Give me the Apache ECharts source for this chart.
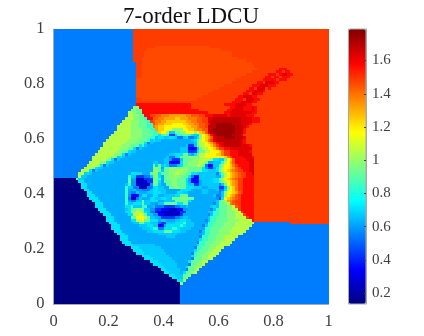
<!DOCTYPE html>
<html>
<head>
<meta charset="utf-8">
<style>html,body{margin:0;background:#fff}#main{width:424px;height:336px}</style>
<script src="https://cdn.jsdelivr.net/npm/echarts@6/dist/echarts.min.js"></script>
</head>
<body>
<div id="main"></div>
<script>
// density, one letter = one level, letter + run length per row (top row first)
const levelNames = 'abcdefghijklmnopqrstuvwx';
const levelValues = [0.138, 0.25, 0.35, 0.43, 0.545, 0.59, 0.62, 0.67, 0.71, 0.84, 0.92, 0.98, 1.05, 1.18, 1.25, 1.32, 1.38, 1.44, 1.485, 1.57, 1.63, 1.68, 1.74, 1.465];
const axisTicks = [0, 0.2, 0.4, 0.6, 0.8, 1];
const barTicks = [0.2, 0.4, 0.6, 0.8, 1, 1.2, 1.4, 1.6];
const barMin = 0.134;
const barMax = 1.79;
const jet = ['#00007F', '#0000FF', '#007FFF', '#00FFFF', '#7FFF7F', '#FFFF00', '#FF7F00', '#FF0000', '#7F0000'];
const rows = [
'e29s','e29s','e29s','e29s','e29s','e29s',
'e29s8x20s','e29s5x27s','e29s4x32s','e29s4x32s','e29s3x35s','e29s3x38s','e30s2x40s','e30s2x41s',
'e30s2x42s8t3s','e30s2x40s9t2s1t2s','e30s2x38s8t3s1t1u2t2s','e30s2x36s9t2s1t2s1t3s','e30x36s10t5s1t3s',
'e30x35s9t2s1u3t2s','e30x32s10t3u3t3s','e30x30s11t2s1u3s1t1s','e30x28s12t3u3t1s','e30x26s13t2s1u2t2s',
'e30x24s13t2u3t2s','e30s2x20s14t3s1u3t2s','e30s35t3u4t2s',
'e30t20s12t4u4t2s',
'e29l2t19s14t2u3t3u1t1s',
'e28l2k2t21s10t2u4t3u1t1s',
'e27m2l1k2t24s6t2u8t2s',
'e27m2l2k2t2s2r2q3p6q2r3s2t3u5t1u6t3s',
'e26m3l2k2j1t2r2q2p4o2p3q3r2s2u2v10u4t3s',
'e25m3l3k3j1s1r1q2p2o7p2q2r2s2u1v11u4t3s',
'e24m4l3k3j2r1q1p2o3n4o2p2q2r2s1t1v2w6v3u3t1s',
'e23m5l3k3j2q1p1o2n8o2p2q1r2s1v3w7v3u1t1s',
'e23m5l4k3j2p1o2n3l4n2o2p1q2r2v2w8v3t1s',
'e22m6l4k4j2o1n2l1h2k2l2n3l1n1o1p1r1u1v1w8v3t1s',
'e21m7l4k4j2i1j1l1j1d2h1j2k2j1i1h2l1n1o1q1t1v1w6v3u1s',
'e20m8l4k3j2h1i2h2i2h1e2h1i1e2g1i1l1n1o1p1r1u1v3w4v3u1s',
'e19m8l4k3j1h1i1h2g11h1i1k1m1n1o1q1s1u1v9u1t1s',
'e18m8l4k3i1e1h1g15h1k1m2n1o1p1r1t1u2v6u1t1s',
'e18m7l3k3i1j1h1g14h1d2h1k1m2n2o1q1s1t1u1v6u3t1s',
'e17m7l3k2i1e1h1g14h3c3h1k1m2n2o1q1s2t2u8s',
'e16m7l2k2i1h2g16h3d3i1k2m2n3o1q1s2t3u4t1s',
'e15m7l2k1i1e1h1g14h2i3k2h1g1i1k1m2n4o2q1s2t3u5s',
'e14m7l2h1i1h1g15h1e2i2k3l3k1m2n5m1n1o1q1s1t4u3t1s',
'e14m5l2i1e1h1g16h2f1d3h1k3l3m4l1i2h2k1n1o1r1t4u3s',
'e13m4l2i1h2g14h2g2h2c4i1k2l4m2k1g2h3j1m1n1p1r1t5u2s',
'e12m4l1i1e1h1g16k1h1k1h1i1h1e3h1i1k2l3m2k1e1c2h2j1l1n2o1q1s1t4u2s',
'e11m3l1i1h2g18l2k1g1k2l3k1l3k5i1f1d2g1i1k1m1n2o1p1r1s1t3u2s',
'e10m3i1e1h1g20l2k1h1k2l3m2l2k5i2h3i1k1m1n1o1p1q1r1s2t2u2s',
'e9m2h1i1h1g14i4g3k1l2i1k3l2m2l2k2i2h7e1i1k1m1n1o1p1q1r1s2t2u1s',
'e9m1h2g15j1h2d3e2h1k1l1i1g1k2l4k3i1e1c2h6g2j1m1n1o1p1q1r1s2t3s',
'a8k1h2g16k1g2b3d3k2j1g1k2l3k3i1g1c3h5i2k1m1n1o1p1q1r1s2t4s',
'a9i2g16k1f2b4d2k1l1i1g1k3l2k3i1g1c3g1h4i2j1l1m1n1o1p1q1s2t4s',
'a10i2g14h1j1f2b5f1k2h1g2k2l2k3i1h2d2g1h6e1h1k1n1o1p1q1s2t4s',
'a10i2g14j1h2e2b3e2i2h2g2k2l2k2i3h3g2h4d2h1l1n1o1q1s2t4s',
'a11i2g13j1g2h1f2e3h1i2h3g5i4g4h2g3h1e2i1m1n1o1q1s2t4s',
'a12i2g12j1g1e2h1g3h2i3h2g4i2h2g5h2g4e1h1l1n2o1p1r1s1t4s',
'a12i3g11j1f1c3g1i2g2i2g2h4i2k3g9h1e2h1l1n1o1p1r1s1t5s',
'a13i3g10j1e1b2e1h1g3i2h2i2h2k3l3k2g8f1d1i1n1o1p1q1r1s1t5s',
'a14i3g9j1g1e2h2k1h2i3g2h4k5i1g9h1j1l2p1q1r1s2t5s',
'a15i3g8j1h2i3k1h2g2f1h2k5i2k2g9e1h1k2l1m1q1r1s2t5s',
'a15i3g8i2j1h3j2g2h1e3d4e2g2h1g8h1i1h1k3l2m1r1s1t5s',
'a16i3g7h1i1k2l2k1h2f2d2c3b3c2f2g8e1h1j1k3l2m2s1t5s',
'a17i3g6i2l2m2k1i1h1e2c2b7d2g8h2j2k3l3m2s1t4s',
'a18i3g6i2m2n1m1k1h2f2c2b6d1g9e1h1j2k3l3m3s1t3s',
'a19i3g6k2n3m1k1h2g2d5e2g1h2g7h1j2k4l3m4s1t2s',
'a19i3g6i2m2n1k2i3g1h2g3h2i2h2g5e1h1j2k4l4m5t1s',
'a20i3g6h2k2i2h3e1d2h3i3j1h3g5j2k4l4m7e13s',
'a21i3g7h3i2h2c2g1i5j1i1h3g3e1h1j2k4l4m6e',
'a21i3g8h3i1j2e2i3j2i1h4g5j2k4l4m6e',
'a22i3g9h2i4k3i3h2g5e1h1j2k3l4m6e',
'a23i3g12h7g9h1j2k3l4m5e',
'a24i3g14h3g9e1j2k3l3m5e',
'a24i3g26i1j2k3l3m4e',
'a25i3g24e1j2k3l3m4e',
'a26i3h8g15i1j2k2l3m4e',
'a28i3h8g12e1j2k3l2m3e',
'a29i3h8g11i1j1k3l2m3e',
'a30i3h8g9e1j1k3l2m3e',
'a32i3h7g8i1j1k2l2m3e',
'a33i3h7g7e1k3l2m2e',
'a35i3h6g5i1k3l1m2e',
'a36i3h6g4e1k2l2m1e',
'a38i2h5g3i1k2l1m2e',
'a39i2h5g2e1k2l1m1e',
'a40i2h4g1i1k2l1m1e',
'a42i2h3k2l1e',
'a43i2h2k1l1e',
'a45i2l1e',
'a46l1e',
'a46e','a46e','a46e','a46e','a46e','a46e','a46e'
];

const gridSize = 100;
const cell = 1 / gridSize;

function decodeRows() {
    const cells = [];
    rows.forEach(function (row, r) {
        let c = 0;
        for (const m of row.matchAll(/([a-x])(\d*)/g)) {
            const n = m[2] === '' ? gridSize - c : Number(m[2]);
            const value = levelValues[levelNames.indexOf(m[1])];
            for (let k = 0; k < n && c < gridSize; k++) {
                cells.push([c * cell, (gridSize - 1 - r) * cell, value]);
                c++;
            }
        }
    });
    return cells;
}

// cell edges are rounded so neighbours share a pixel edge and no seams show
function renderCell(params, api) {
    const x = api.value(0);
    const y = api.value(1);
    const a = api.coord([x, y + cell]);
    const b = api.coord([x + cell, y]);
    const left = Math.round(a[0]);
    const top = Math.round(a[1]);
    return {
        type: 'rect',
        shape: { x: left, y: top, width: Math.round(b[0]) - left, height: Math.round(b[1]) - top },
        style: { fill: api.visual('color') }
    };
}

const serif = '"Liberation Serif", serif';
const labelColor = '#404040';
const frameColor = '#a8a8a8';

var myChart = echarts.init(document.getElementById('main'));
let option = {
    animation: false,
    title: {
        text: '7-order LDCU',
        left: 186,
        top: 0,
        textAlign: 'center',
        textStyle: { fontFamily: serif, fontSize: 23, fontWeight: 'normal', color: '#111' }
    },
    grid: [
        { left: 53.5, top: 29, width: 275, height: 275 },
        { left: 348.5, top: 29, width: 17.5, height: 275, show: true, borderColor: frameColor, backgroundColor: 'transparent', z: 6 }
    ],
    xAxis: [
        {
            type: 'value', gridIndex: 0, min: 0, max: 1, interval: 0.2, position: 'bottom', z: 5,
            splitLine: { show: false },
            axisLine: { show: true, onZero: false, lineStyle: { color: frameColor } },
            axisTick: { show: false },
            axisLabel: { fontFamily: serif, fontSize: 16.5, color: labelColor, margin: 9, customValues: axisTicks }
        },
        { type: 'value', gridIndex: 1, min: 0, max: 1, show: false }
    ],
    yAxis: [
        {
            type: 'value', gridIndex: 0, min: 0, max: 1, interval: 0.2, position: 'left', z: 5,
            splitLine: { show: false },
            axisLine: { show: true, onZero: false, lineStyle: { color: frameColor } },
            axisTick: { show: false },
            axisLabel: { fontFamily: serif, fontSize: 16.5, color: labelColor, margin: 9, customValues: axisTicks }
        },
        {
            type: 'value', gridIndex: 1, min: barMin, max: barMax, position: 'right', z: 7,
            splitLine: { show: false },
            axisLine: { show: true, onZero: false, lineStyle: { color: frameColor } },
            axisTick: { show: true, inside: true, length: 2, lineStyle: { color: '#404040' }, customValues: barTicks },
            axisLabel: { fontFamily: serif, fontSize: 15, color: labelColor, margin: 6, customValues: barTicks }
        }
    ],
    visualMap: {
        type: 'continuous',
        seriesIndex: 0,
        dimension: 2,
        min: barMin,
        max: barMax,
        calculable: false,
        left: 348.5,
        top: 29,
        padding: 0,
        itemWidth: 17.5,
        itemHeight: 275,
        inRange: { color: jet }
    },
    series: [
        {
            name: 'density',
            type: 'custom',
            xAxisIndex: 0,
            yAxisIndex: 0,
            progressive: 0,
            silent: true,
            encode: { x: 0, y: 1 },
            renderItem: renderCell,
            data: decodeRows()
        }
    ]
};
myChart.setOption(option);
</script>
</body>
</html>
